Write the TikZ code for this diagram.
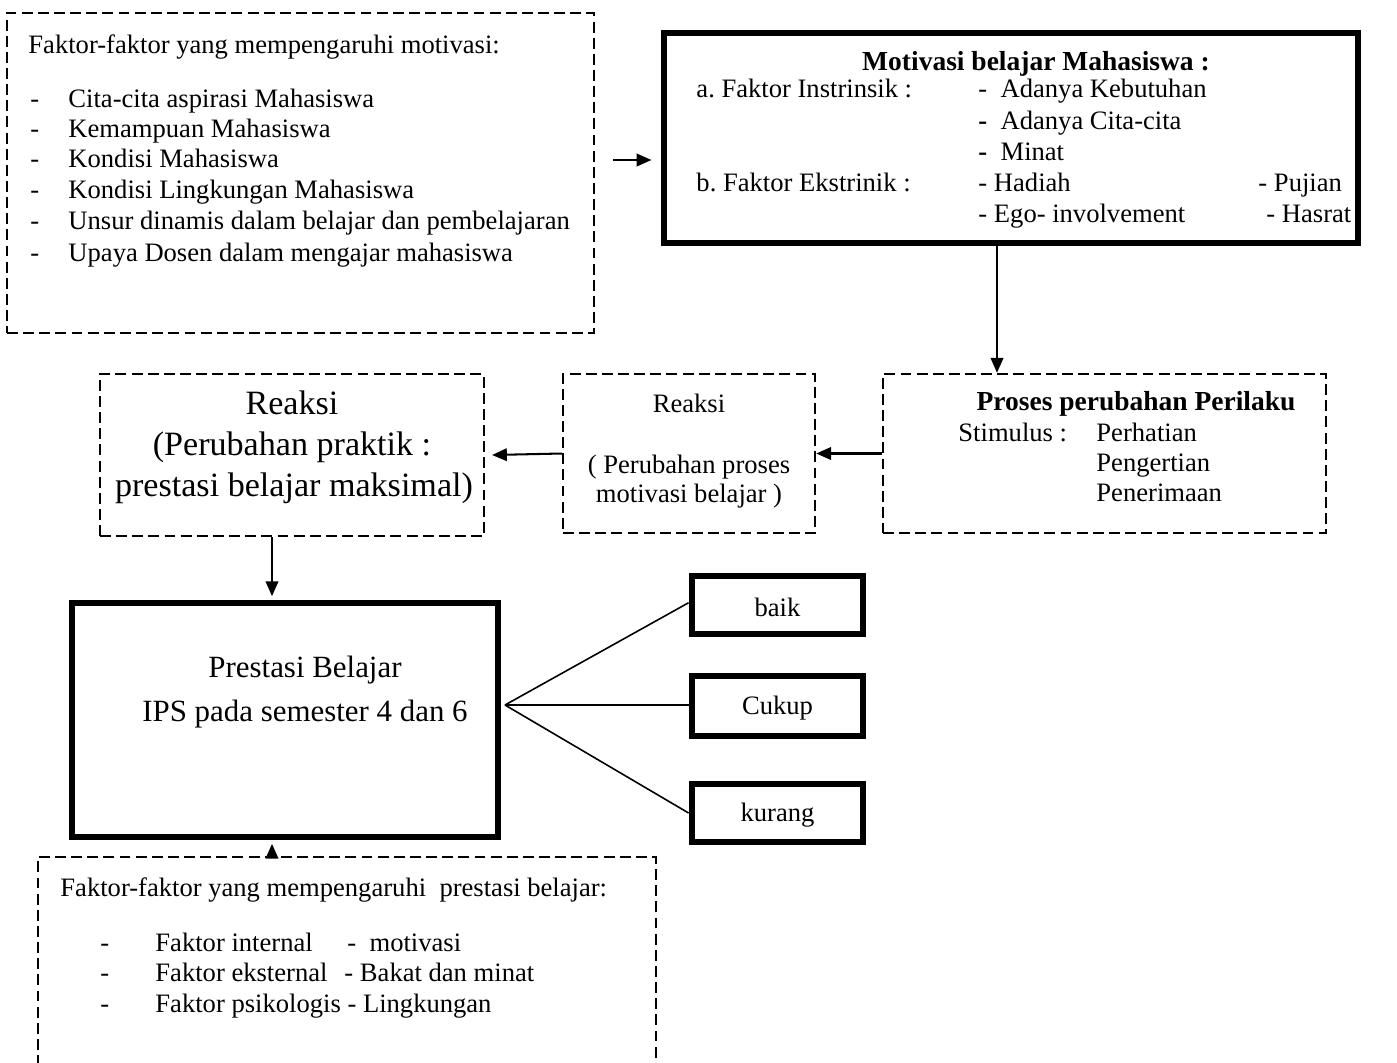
\documentclass[tikz,border=0pt]{standalone}
\usepackage{fontspec}
\setmainfont{Liberation Serif}
\usetikzlibrary{fit,arrows.meta}
\begin{document}
\frenchspacing
\begin{tikzpicture}[x=0.44pt,y=-0.44pt,
  dbox/.style={draw,line width=1.1pt,dash pattern=on 4.8pt off 2.3pt,inner sep=0pt},
  tbox/.style={draw,line width=3pt,inner sep=0pt},
  arr/.style={line width=0.9pt,-{Triangle[length=6.5pt,width=5.5pt]}},
  fan/.style={line width=0.7pt},
  txt/.style={anchor=base west,inner sep=0pt,font=\fontsize{11.7}{14}\selectfont},
  ctxt/.style={anchor=base,inner sep=0pt,font=\fontsize{11.7}{14}\selectfont},
  btxt/.style={anchor=base,inner sep=0pt,font=\fontsize{12.1}{14}\selectfont\bfseries},
  big/.style={anchor=base,inner sep=0pt,font=\fontsize{15}{17}\selectfont},
  bigb/.style={anchor=base,inner sep=0pt,font=\fontsize{13.6}{16}\selectfont}]
\clip (0,0) rectangle (1397,1062);
% ---------- boxes ----------
\node[dbox,fit={(7,13)(594,333)}] (f1) {};
\node[tbox,fit={(664,33)(1358,243)}] (mot) {};
\node[dbox,fit={(883,374)(1326,533)}] (pros) {};
\node[dbox,fit={(563,374)(815,533)}] (rk2) {};
\node[dbox,fit={(100,374)(484,536)}] (rk1) {};
\node[tbox,fit={(72,603)(498,837)}] (pb) {};
\node[tbox,fit={(692,576)(863,634)}] (baik) {};
\node[tbox,fit={(692,676)(863,736)}] (cukup) {};
\node[tbox,fit={(692,784)(863,842)}] (kurang) {};
\node[dbox,fit={(38,857)(656,1085)}] (f2) {};
% ---------- box 1 text ----------
\node[txt] (f1t) at (28,53) {Faktor-faktor yang mempengaruhi motivasi:};
\foreach \yy/\tt [count=\i] in {107/Cita-cita aspirasi Mahasiswa,137/Kemampuan Mahasiswa,167/Kondisi Mahasiswa,198/Kondisi Lingkungan Mahasiswa,229/Unsur dinamis dalam belajar dan pembelajaran,261/Upaya Dosen dalam mengajar mahasiswa}{
  \node[txt] (f1d\i) at (30,\yy) {-};
  \node[txt] (f1i\i) at (68,\yy) {\tt};
}
% ---------- motivasi box text ----------
\node[btxt] (mott) at (1036,70) {Motivasi belajar Mahasiswa :};
\node[txt] (ma) at (696,97) {a. Faktor Instrinsik :};
\node[txt] (ma1) at (978,97) {-\ \ Adanya Kebutuhan};
\node[txt] (ma2) at (978,129) {\textbf{-}\ \ Adanya Cita-cita};
\node[txt] (ma3) at (978,160) {\textbf{-}\ \ Minat};
\node[txt] (mb) at (696,191) {b. Faktor Ekstrinik :};
\node[txt] (mb1) at (978,191) {- Hadiah};
\node[txt] (mb2) at (1258,191) {- Pujian};
\node[txt] (mb3) at (978,222) {- Ego- involvement};
\node[txt] (mb4) at (1266,222) {- Hasrat};
% ---------- proses box text ----------
\node[btxt] (prt) at (1136,410) {Proses perubahan Perilaku};
\node[txt] (prs) at (958,441) {Stimulus :};
\node[txt] (pr1) at (1096,441) {Perhatian};
\node[txt] (pr2) at (1096,471) {Pengertian};
\node[txt] (pr3) at (1096,501) {Penerimaan};
% ---------- reaksi middle ----------
\node[ctxt] (r2a) at (689,412) {Reaksi};
\node[ctxt] (r2b) at (689,473) {( Perubahan proses};
\node[ctxt] (r2c) at (689,502) {motivasi belajar )};
% ---------- reaksi left ----------
\node[big] (r1a) at (292,414) {Reaksi};
\node[big] (r1b) at (292,455) {(Perubahan praktik :};
\node[big] (r1c) at (294,496) {prestasi belajar maksimal)};
% ---------- prestasi ----------
\node[bigb] (pba) at (305,677) {Prestasi Belajar};
\node[bigb] (pbb) at (305,721) {IPS pada semester 4 dan 6};
\node[ctxt] at (baik.center) [anchor=center,yshift=-1pt] {baik};
\node[ctxt] at (cukup.center) [anchor=center,yshift=-1pt] {Cukup};
\node[ctxt] at (kurang.center) [anchor=center,yshift=-1pt] {kurang};
% ---------- bottom box text ----------
\node[txt] (f2t) at (60,896) {Faktor-faktor yang mempengaruhi\ \ prestasi belajar:};
\node[txt] (f2d1) at (100,951) {-};
\node[txt] (f2d2) at (100,981) {-};
\node[txt] (f2d3) at (100,1012) {-};
\node[txt] (f2a) at (155,951) {Faktor internal};
\node[txt] (f2a2) at (347,951) {-\ \ motivasi};
\node[txt] (f2b) at (155,981) {Faktor eksternal};
\node[txt] (f2b2) at (344,981) {- Bakat dan minat};
\node[txt] (f2c) at (155,1012) {Faktor psikologis - Lingkungan};
% ---------- connectors ----------
\coordinate (c1) at (0,160);
\coordinate (c2) at (997,0);
\coordinate (c3) at (272,0);
\coordinate (fo) at (505,705);
\draw[arr,shorten <=8pt,shorten >=4pt] (f1.east |- c1) -- (mot.west |- c1);
\draw[arr] (mot.south -| c2) -- (pros.north -| c2);
\draw[arr] (pros.west) -- (rk2.east);
\draw[arr] (rk2.west) -- ([xshift=3pt]rk1.east);
\draw[arr] (rk1.south -| c3) -- ([yshift=1.5pt]pb.north -| c3);
\draw[arr] (f2.north -| c3) -- ([yshift=-1.5pt]pb.south -| c3);
\draw[fan] (fo) -- ([yshift=1pt]baik.west);
\draw[fan] (fo) -- (fo -| cukup.west);
\draw[fan] (fo) -- (kurang.west);
\end{tikzpicture}
\end{document}
